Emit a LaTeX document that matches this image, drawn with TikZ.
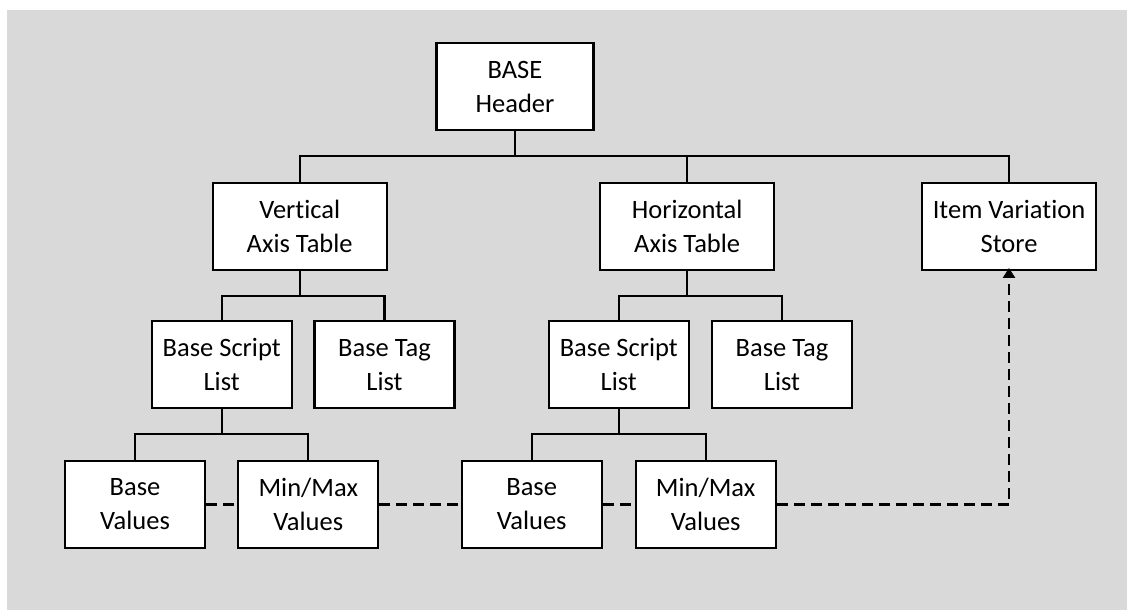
\documentclass[tikz,border=0pt]{standalone}
\usepackage{fontspec}
\setmainfont{Carlito}[Ligatures=NoCommon]
\usetikzlibrary{arrows.meta}
\definecolor{panel}{HTML}{D9D9D9}
\begin{document}
\begin{tikzpicture}[x=1pt,y=-1pt,
  box/.style={draw=black, line width=2.2pt, fill=white, inner sep=0pt,
    minimum height=87pt, align=center,
    font=\fontsize{26.5}{34}\selectfont},
  wide/.style={box, minimum width=174pt},
  narrow/.style={box, minimum width=140pt},
  link/.style={line width=2.2pt, draw=black},
  ref/.style={line width=2.2pt, draw=black, dash pattern=on 11pt off 6pt}]
  \useasboundingbox (0,0) rectangle (1127,610);
  \fill[panel] (7,10) rectangle (1127,610);

  % table nodes
  \node[box, minimum width=157pt] (hdr) at (515,86.7) {BASE\\Header};
  \node[wide] (vat) at (299.7,226.3) {Vertical\\Axis Table};
  \node[wide] (hat) at (687.2,226.3) {Horizontal\\Axis Table};
  \node[wide] (ivs) at (1009,226.3) {Item Variation\\Store};
  \node[narrow] (bsl1) at (221.7,364.7) {Base Script\\List};
  \node[narrow] (btl1) at (384.5,364.7) {Base Tag\\List};
  \node[narrow] (bsl2) at (618.8,364.7) {Base Script\\List};
  \node[narrow] (btl2) at (782,364.7) {Base Tag\\List};
  \node[narrow] (bv1) at (135,504.5) {Base\\Values};
  \node[narrow] (mm1) at (308.3,504.5) {Min/Max\\Values};
  \node[narrow] (bv2) at (531.7,504.5) {Base\\Values};
  \node[narrow] (mm2) at (705.7,504.5) {Min/Max\\Values};

  % bus levels
  \coordinate (bus1) at (0,156);
  \coordinate (bus2) at (0,296);
  \coordinate (bus3) at (0,434);

  % header to axis tables and store
  \draw[link] (hdr.south) -- (hdr.south |- bus1);
  \draw[link] (vat.north) -- (vat.north |- bus1) -- (ivs.north |- bus1) -- (ivs.north);
  \draw[link] (hat.north) -- (hat.north |- bus1);

  % axis tables to lists
  \draw[link] (vat.south) -- (vat.south |- bus2);
  \draw[link] (bsl1.north) -- (bsl1.north |- bus2) -- (btl1.north |- bus2) -- (btl1.north);
  \draw[link] (hat.south) -- (hat.south |- bus2);
  \draw[link] (bsl2.north) -- (bsl2.north |- bus2) -- (btl2.north |- bus2) -- (btl2.north);

  % script lists to values
  \draw[link] (bsl1.south) -- (bsl1.south |- bus3);
  \draw[link] (bv1.north) -- (bv1.north |- bus3) -- (mm1.north |- bus3) -- (mm1.north);
  \draw[link] (bsl2.south) -- (bsl2.south |- bus3);
  \draw[link] (bv2.north) -- (bv2.north |- bus3) -- (mm2.north |- bus3) -- (mm2.north);

  % references into the item variation store
  \draw[ref] (bv1.east) -- (mm1.west);
  \draw[ref] (mm1.east) -- (bv2.west);
  \draw[ref] (bv2.east) -- (mm2.west);
  \draw[ref, -{Triangle[length=10pt, width=12pt]}] (mm2.east) -| ([yshift=3pt]ivs.south);
\end{tikzpicture}
\end{document}
